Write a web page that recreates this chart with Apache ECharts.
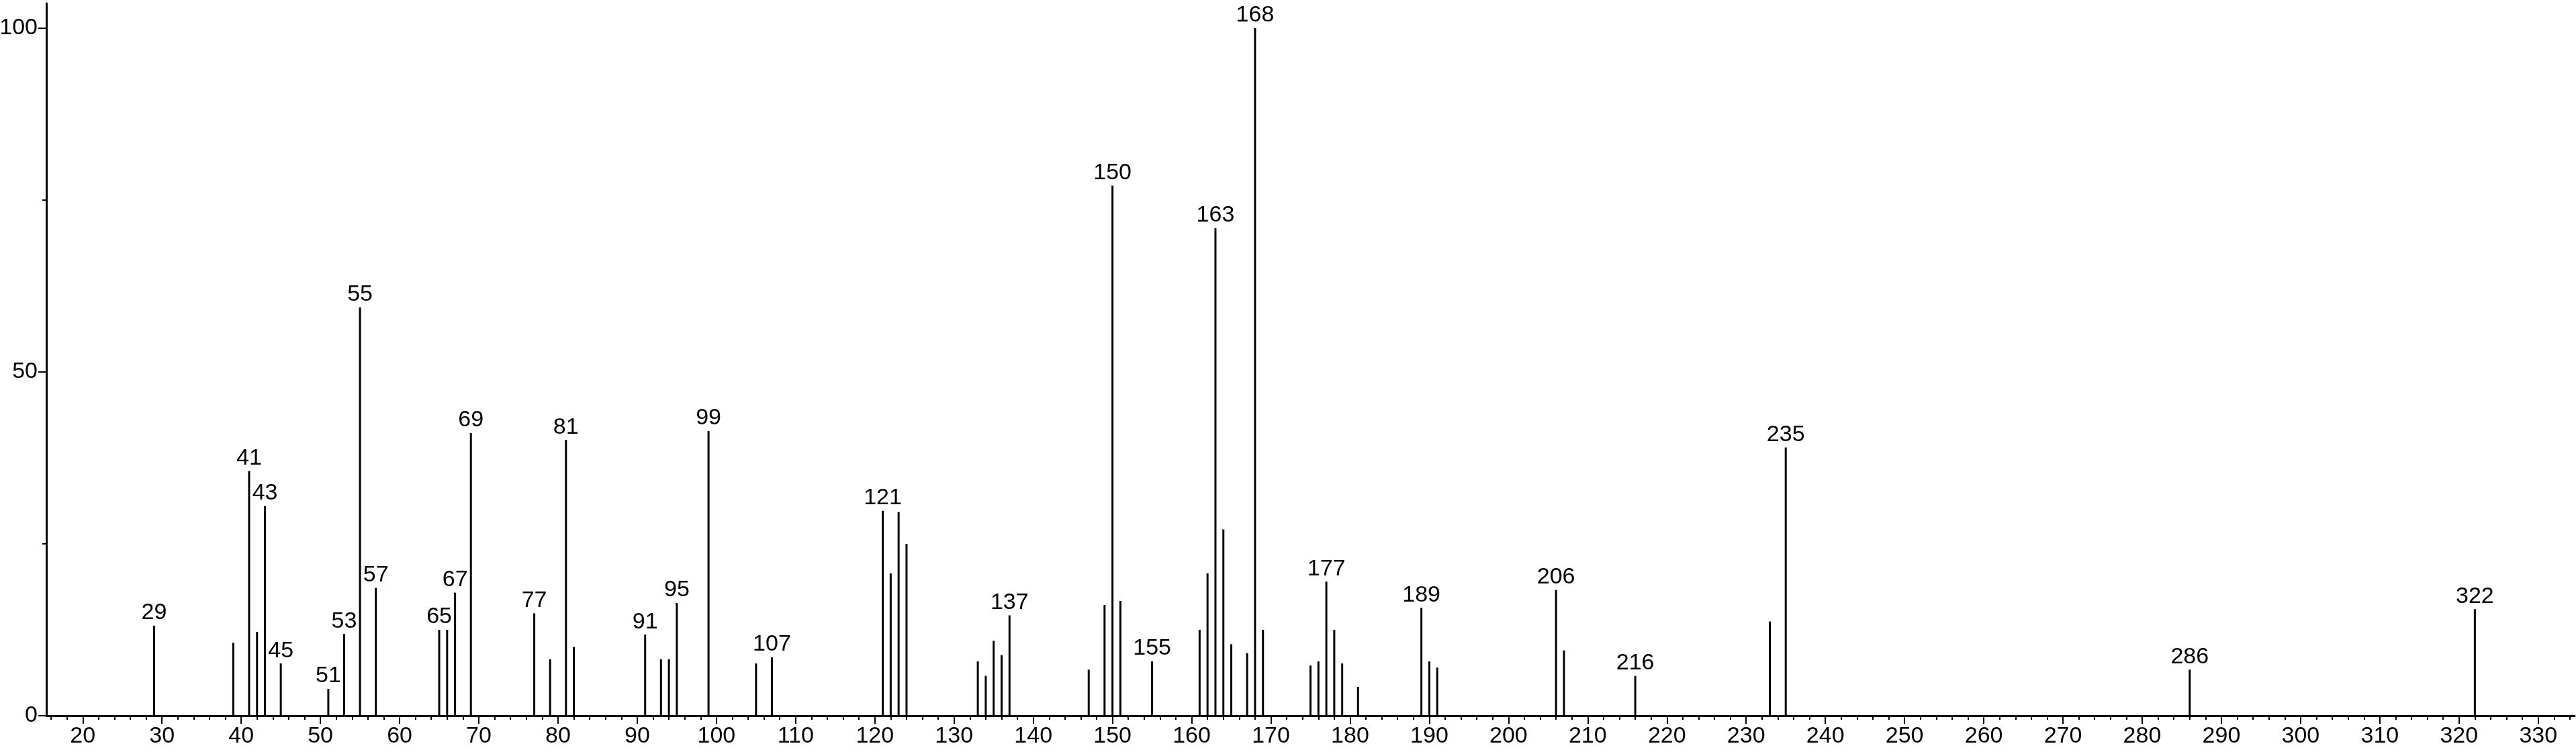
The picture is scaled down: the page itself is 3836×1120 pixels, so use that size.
<!DOCTYPE html>
<html>
<head>
<meta charset="utf-8">
<script src="https://cdn.jsdelivr.net/npm/echarts@6/dist/echarts.min.js"></script>
<style>
  html, body { margin: 0; padding: 0; background: #ffffff; }
  #chart { width: 3836px; height: 1120px; }
</style>
</head>
<body>
<div id="chart"></div>
<script>
// m/z values of the peaks
const mz = [29, 39, 41, 42, 43, 45, 51, 53, 55, 57, 65, 66, 67, 69, 77, 79, 81, 82, 91, 93, 94, 95, 99,
  105, 107, 121, 122, 123, 124, 133, 134, 135, 136, 137, 147, 149, 150, 151, 155,
  161, 162, 163, 164, 165, 167, 168, 169, 175, 176, 177, 178, 179, 181, 189, 190, 191,
  206, 207, 216, 233, 235, 286, 322];
// relative intensities (%)
const intensity = [13.1, 10.6, 35.6, 12.2, 30.5, 7.6, 3.9, 11.9, 59.4, 18.6, 12.5, 12.5, 17.9, 41.1, 14.9, 8.2, 40.1, 10.0, 11.8, 8.2, 8.2, 16.4, 41.4,
  7.6, 8.5, 29.8, 20.7, 29.6, 25.0, 7.9, 5.8, 10.9, 8.8, 14.6, 6.7, 16.1, 77.1, 16.7, 7.9,
  12.5, 20.7, 70.9, 27.1, 10.4, 9.1, 100, 12.5, 7.3, 7.9, 19.5, 12.5, 7.6, 4.2, 15.7, 7.9, 7.0,
  18.3, 9.5, 5.8, 13.7, 39.0, 6.7, 15.5];
// peaks annotated with their m/z
const labeledPeaks = [29, 41, 43, 45, 51, 53, 55, 57, 65, 67, 69, 77, 81, 91, 95, 99, 107, 121, 137,
  150, 155, 163, 168, 177, 189, 206, 216, 235, 286, 322];
// axis tick labels
const xTickLabels = [20, 30, 40, 50, 60, 70, 80, 90, 100, 110, 120, 130, 140, 150, 160, 170, 180, 190,
  200, 210, 220, 230, 240, 250, 260, 270, 280, 290, 300, 310, 320, 330];
const yTickLabels = [0, 50, 100];
const yMinorTicks = [25, 75];

const X_MIN = 15.4, X_MAX = 334.6, Y_MAX = 103.6;
const xMinorTicks = [];
for (let v = 16; v <= 334; v += 2) { if (v % 10 !== 0) xMinorTicks.push(v); }

const FONT = '"Liberation Sans", Arial, Helvetica, sans-serif';

const seriesData = mz.map((m, i) => ({
  value: [m, intensity[i]],
  label: { show: labeledPeaks.indexOf(m) >= 0 }
}));

const chart = echarts.init(document.getElementById('chart'), null, { renderer: 'canvas' });
chart.setOption({
  backgroundColor: '#ffffff',
  animation: false,
  grid: { left: 69, right: 2, top: 5, bottom: 54, containLabel: false, outerBoundsMode: 'none' },
  xAxis: [
    {
      type: 'value', min: X_MIN, max: X_MAX, position: 'bottom',
      axisLine: { show: true, onZero: false, lineStyle: { color: '#000', width: 3 } },
      axisTick: { show: true, customValues: xTickLabels, length: 12, lineStyle: { color: '#000', width: 2 } },
      axisLabel: { show: true, customValues: xTickLabels, margin: 14, color: '#000', fontSize: 34, fontFamily: FONT },
      splitLine: { show: false }
    },
    {
      type: 'value', min: X_MIN, max: X_MAX, position: 'bottom',
      axisLine: { show: false, onZero: false },
      axisTick: { show: true, customValues: xMinorTicks, length: 6, lineStyle: { color: '#000', width: 2 } },
      axisLabel: { show: false },
      splitLine: { show: false }
    }
  ],
  yAxis: [
    {
      type: 'value', min: 0, max: Y_MAX, position: 'left',
      axisLine: { show: true, onZero: false, lineStyle: { color: '#000', width: 3 } },
      axisTick: { show: true, customValues: yTickLabels, length: 12, lineStyle: { color: '#000', width: 2 } },
      axisLabel: { show: true, customValues: yTickLabels, margin: 13, color: '#000', fontSize: 34, fontFamily: FONT },
      splitLine: { show: false }
    },
    {
      type: 'value', min: 0, max: Y_MAX, position: 'left',
      axisLine: { show: false, onZero: false },
      axisTick: { show: true, customValues: yMinorTicks, length: 6, lineStyle: { color: '#000', width: 2 } },
      axisLabel: { show: false },
      splitLine: { show: false }
    }
  ],
  series: [{
    type: 'bar',
    xAxisIndex: 0,
    yAxisIndex: 0,
    barWidth: 3,
    itemStyle: { color: '#000' },
    label: {
      position: 'top', distance: 2, color: '#000', fontSize: 34, fontFamily: FONT,
      formatter: p => String(p.value[0])
    },
    data: seriesData
  }]
});
</script>
</body>
</html>
